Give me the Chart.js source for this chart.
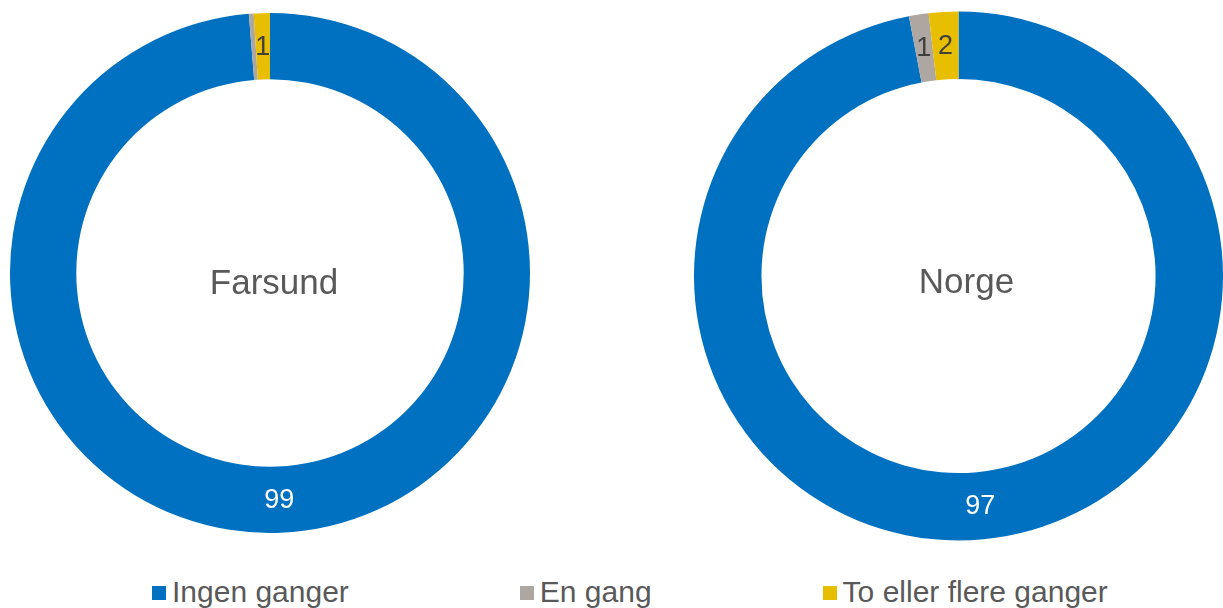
<!DOCTYPE html>
<html lang="no">
<head>
<meta charset="UTF-8">
<title>Farsund / Norge</title>
<script src="https://cdn.jsdelivr.net/npm/chart.js@4"></script>
<style>
  body { margin: 0; width: 1223px; height: 608px; background: #fff; position: relative; overflow: hidden;
         font-family: "Liberation Sans", Arial, sans-serif; }
  .wrap { position: absolute; }
  #left { left: 10px; top: 13px; width: 520px; height: 520px; }
  #right { left: 694px; top: 11px; width: 529px; height: 530px; }
  .legend { position: absolute; left: 152px; top: 575px; display: flex; gap: 171px; color: #595959; font-size: 30px; }
  .legend .item { display: flex; align-items: center; white-space: nowrap; }
  .legend .box { width: 14px; height: 14px; margin-right: 6px; margin-top: 2px; }
</style>
</head>
<body>
<div class="wrap" id="left"><canvas id="c1"></canvas></div>
<div class="wrap" id="right"><canvas id="c2"></canvas></div>
<div class="legend" id="legend"></div>
<script>
// categories and values (percent)
const categories = ['Ingen ganger', 'En gang', 'To eller flere ganger'];
const colors = ['#0070C0', '#ADA6A1', '#E8BE00'];
const farsundValues = [98.7, 0.3, 1.0];
const norgeValues = [97.0, 1.2, 1.8];
const titles = ['Farsund', 'Norge'];

// labels inside the ring + title in the hole
const ringLabels = {
  id: 'ringLabels',
  afterDatasetsDraw(chart, args, opts) {
    const ctx = chart.ctx;
    const meta = chart.getDatasetMeta(0);
    const data = chart.data.datasets[0].data;
    ctx.save();
    ctx.textAlign = 'center';
    ctx.textBaseline = 'middle';
    meta.data.forEach((arc, i) => {
      const v = Math.round(data[i]);
      if (v < 1) return;
      const p = arc.tooltipPosition();
      ctx.fillStyle = i === 0 ? '#ffffff' : '#404040';
      ctx.font = '27px "Liberation Sans", Arial, sans-serif';
      ctx.fillText(String(v), p.x, p.y + 1);
    });
    const a = meta.data[0];
    ctx.fillStyle = '#595959';
    ctx.font = '35px "Liberation Sans", Arial, sans-serif';
    ctx.fillText(opts.title, a.x + opts.dx, a.y + opts.dy);
    ctx.restore();
  }
};

function makeChart(id, values, title, dx, dy) {
  return new Chart(document.getElementById(id), {
    type: 'doughnut',
    data: {
      labels: categories,
      datasets: [{ data: values, backgroundColor: colors, borderWidth: 0 }]
    },
    options: {
      responsive: true,
      maintainAspectRatio: false,
      animation: false,
      cutout: '74.5%',
      layout: { padding: 0 },
      plugins: {
        legend: { display: false },
        tooltip: { enabled: false },
        ringLabels: { title: title, dx: dx, dy: dy }
      }
    },
    plugins: [ringLabels]
  });
}

makeChart('c1', farsundValues, titles[0], 4, 11);
makeChart('c2', norgeValues, titles[1], 8, 7);

// legend
const legend = document.getElementById('legend');
categories.forEach((name, i) => {
  const item = document.createElement('div');
  item.className = 'item';
  const box = document.createElement('span');
  box.className = 'box';
  box.style.background = colors[i];
  const txt = document.createElement('span');
  txt.textContent = name;
  item.appendChild(box);
  item.appendChild(txt);
  legend.appendChild(item);
});
</script>
</body>
</html>
